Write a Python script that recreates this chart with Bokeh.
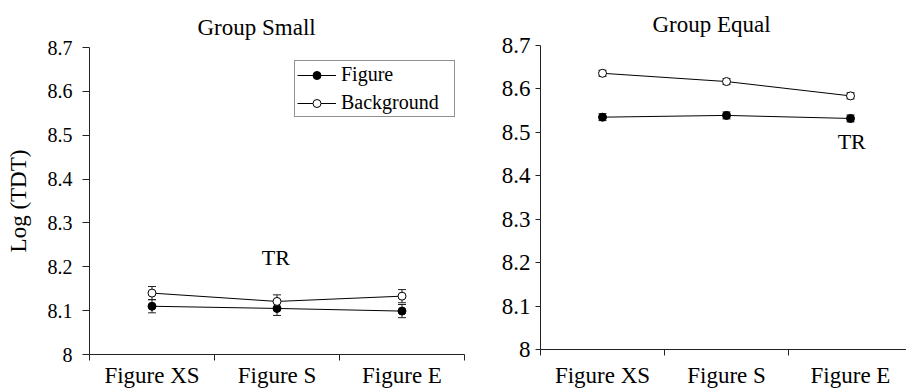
from bokeh.plotting import figure
from bokeh.models import (FixedTicker, Whisker, ColumnDataSource, Legend, LegendItem,
                          Label, Range1d, TeeHead, NumeralTickFormatter)
from bokeh.layouts import row, column
from bokeh.embed import file_html
from bokeh.resources import INLINE

categories = ["Figure XS", "Figure S", "Figure E"]
small_figure = [8.110, 8.105, 8.099]
small_figure_err = [0.015, 0.016, 0.015]
small_background = [8.140, 8.121, 8.133]
small_background_err = [0.015, 0.015, 0.015]
equal_figure = [8.535, 8.539, 8.532]
equal_figure_err = [0.008, 0.008, 0.008]
equal_background = [8.636, 8.617, 8.584]
equal_background_err = [0.007, 0.007, 0.007]
y_ticks = [8.0, 8.1, 8.2, 8.3, 8.4, 8.5, 8.6, 8.7]
titles = ["Group Small", "Group Equal"]
y_label = "Log (TDT)"
series_names = ["Figure", "Background"]
annotation_text = "TR"

FONT = "'Liberation Serif', serif"
xpos = [i + 0.5 for i in range(len(categories))]
boundaries = [float(i) for i in range(len(categories) + 1)]


def make_panel(title, fig_vals, fig_err, bg_vals, bg_err, width, x_end,
               border_left, border_right, border_top, border_bottom, title_offset,
               title_standoff, ytick_size, ytick_out, ytick_standoff, xlab_standoff,
               tr_x, tr_y, show_ylabel, show_legend):
    p = figure(width=width, height=391, x_range=Range1d(0, x_end),
               y_range=Range1d(y_ticks[0], y_ticks[-1]),
               output_backend="svg", toolbar_location=None,
               min_border_left=border_left, min_border_right=border_right,
               min_border_top=border_top, min_border_bottom=border_bottom,
               title=title)
    p.outline_line_color = None
    p.xgrid.visible = False
    p.ygrid.visible = False
    p.background_fill_color = "white"
    p.border_fill_color = "white"

    p.title.text_font = FONT
    p.title.text_font_size = "23px"
    p.title.text_font_style = "normal"
    p.title.text_color = "black"
    p.title.align = "left"
    p.title.offset = title_offset
    p.title.standoff = title_standoff

    # x axis
    xa = p.xaxis[0]
    xa.ticker = FixedTicker(ticks=xpos, minor_ticks=boundaries)
    xa.major_label_overrides = {x: c for x, c in zip(xpos, categories)}
    xa.major_tick_out = 0
    xa.major_tick_in = 0
    xa.minor_tick_out = 6
    xa.minor_tick_in = 0
    xa.minor_tick_line_color = "#222222"
    xa.axis_line_color = "#222222"
    xa.major_label_text_font = FONT
    xa.major_label_text_font_size = "23px"
    xa.major_label_text_color = "black"
    xa.major_label_standoff = xlab_standoff

    # y axis
    ya = p.yaxis[0]
    ya.ticker = FixedTicker(ticks=y_ticks, minor_ticks=[])
    ya.formatter = NumeralTickFormatter(format="0.[0]")
    ya.major_tick_out = ytick_out
    ya.major_tick_in = 0
    ya.minor_tick_out = 0
    ya.minor_tick_in = 0
    ya.major_tick_line_color = "#222222"
    ya.axis_line_color = "#222222"
    ya.major_label_text_font = FONT
    ya.major_label_text_font_size = ytick_size
    ya.major_label_text_color = "black"
    ya.major_label_standoff = ytick_standoff
    if show_ylabel:
        ya.axis_label = y_label
        ya.axis_label_text_font = FONT
        ya.axis_label_text_font_size = "23px"
        ya.axis_label_text_font_style = "normal"
        ya.axis_label_text_color = "black"
        ya.axis_label_standoff = 14

    src_f = ColumnDataSource(dict(x=xpos, y=fig_vals,
                                  lo=[v - e for v, e in zip(fig_vals, fig_err)],
                                  hi=[v + e for v, e in zip(fig_vals, fig_err)]))
    src_b = ColumnDataSource(dict(x=xpos, y=bg_vals,
                                  lo=[v - e for v, e in zip(bg_vals, bg_err)],
                                  hi=[v + e for v, e in zip(bg_vals, bg_err)]))
    for src in (src_f, src_b):
        w = Whisker(source=src, base="x", lower="lo", upper="hi", dimension="height",
                    line_color="#222222", line_width=1, level="underlay",
                    lower_head=TeeHead(size=8, line_color="#222222", line_width=1),
                    upper_head=TeeHead(size=8, line_color="#222222", line_width=1))
        p.add_layout(w)

    lf = p.line("x", "y", source=src_f, line_color="black", line_width=1)
    sf = p.scatter("x", "y", source=src_f, size=8, fill_color="black",
                   line_color="black", line_width=1)
    lb = p.line("x", "y", source=src_b, line_color="black", line_width=1)
    sb = p.scatter("x", "y", source=src_b, size=8, fill_color="white",
                   line_color="black", line_width=1)

    p.add_layout(Label(x=tr_x, y=tr_y, text=annotation_text, text_font=FONT,
                       text_font_size="22px", text_color="black",
                       text_align="center", text_baseline="middle"))

    if show_legend:
        legend = Legend(items=[LegendItem(label=series_names[0], renderers=[lf, sf]),
                               LegendItem(label=series_names[1], renderers=[lb, sb])],
                        location=(205, 237))
        legend.label_text_font = FONT
        legend.label_text_font_size = "20px"
        legend.label_text_color = "black"
        legend.glyph_width = 39
        legend.glyph_height = 20
        legend.label_height = 20
        legend.label_width = 111
        legend.label_standoff = 5
        legend.spacing = 5
        legend.padding = 2
        legend.margin = 0
        legend.border_line_color = "#222222"
        legend.border_line_width = 1
        legend.background_fill_color = "white"
        legend.background_fill_alpha = 1.0
        p.add_layout(legend, "center")
    return p


p1 = make_panel(titles[0], small_figure, small_figure_err, small_background,
                small_background_err, width=470, x_end=3.0,
                border_left=89, border_right=6, border_top=47, border_bottom=37,
                title_offset=108, title_standoff=15, ytick_size="20px", ytick_out=7,
                ytick_standoff=10, xlab_standoff=2, tr_x=1.49, tr_y=8.222,
                show_ylabel=True, show_legend=True)

p2 = make_panel(titles[1], equal_figure, equal_figure_err, equal_background,
                equal_background_err, width=436, x_end=366 / 124.0,
                border_left=70, border_right=0, border_top=44, border_bottom=42,
                title_offset=112, title_standoff=18, ytick_size="23px", ytick_out=5,
                ytick_standoff=5, xlab_standoff=7, tr_x=2.51, tr_y=8.48,
                show_ylabel=False, show_legend=False)

layout = row(column(p1), column(p2))
open("out.html", "w").write(file_html(layout, INLINE))
